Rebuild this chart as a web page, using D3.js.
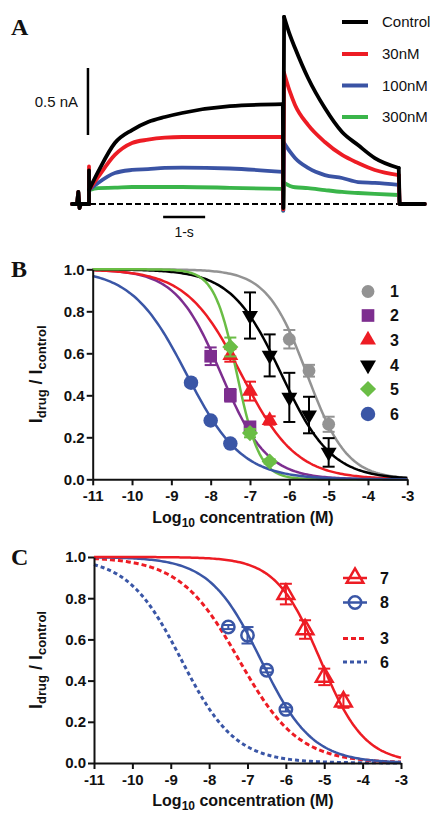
<!DOCTYPE html>
<html><head><meta charset="utf-8">
<script src="https://cdn.jsdelivr.net/npm/d3@7"></script>
<style>
body{margin:0;background:#fff}
svg{display:block}
text{font-family:"Liberation Sans",Arial,Helvetica,sans-serif;fill:#111}
</style>
</head><body>
<svg id="chart" width="437" height="813"></svg>
<script>
// ---------------- Panel A data (time in s, current in nA) ----------------
const traceNames  = ["Control", "30nM", "100nM", "300nM"];
const traceColors = ["#000000", "#ED1C24", "#3A53A4", "#3AB54A"];
const preT = [0, 0.12, 0.15, 0.18, 0.21, 0.405];
const preI = [0, 0, 0.09, -0.03, 0, 0];
const onsetSpike = [0.25, 0.28, 0.2, 0.15];
const actT = [0.405, 0.62, 1.02, 1.43, 1.81, 2.21, 2.62, 3.76, 5.02];
const actControl = [0.104, 0.239, 0.455, 0.552, 0.612, 0.649, 0.679, 0.73, 0.745];
const act30  = [0.104, 0.20, 0.366, 0.455, 0.48, 0.495, 0.50, 0.50, 0.50];
const act100 = [0.104, 0.157, 0.231, 0.254, 0.261, 0.269, 0.272, 0.265, 0.24];
const act300 = [0.104, 0.119, 0.122, 0.127, 0.127, 0.127, 0.127, 0.121, 0.112];
const stepDip = [-0.03, -0.04, -0.05, -0.05];
const tailT = [5.05, 5.19, 5.31, 5.62, 6.02, 6.43, 6.81, 7.21, 7.78];
const tailControl = [1.396, 1.26, 1.164, 0.940, 0.716, 0.537, 0.440, 0.343, 0.269];
const tail30  = [0.978, 0.836, 0.739, 0.590, 0.463, 0.366, 0.306, 0.254, 0.216];
const tail100 = [0.455, 0.39, 0.343, 0.269, 0.216, 0.194, 0.164, 0.157, 0.142];
const tail300 = [0.157, 0.135, 0.125, 0.119, 0.104, 0.090, 0.082, 0.075, 0.067];
const endT = 8.4;
const barCurrent = [0.515, 1.015];   // 0.5 nA scale bar
const barCurrentT = 0.38;
const barTime = [2.17, 3.17];        // 1 s scale bar
const barTimeI = -0.097;

// ---------------- Panel B data ----------------
const seriesB = ["1", "2", "3", "4", "5", "6"];
const colorsB = ["#939393", "#7D2E8F", "#ED1C24", "#000000", "#6ABD45", "#3A56A6"];
const logConcTicks = [-11, -10, -9, -8, -7, -6, -5, -4, -3];
const ratioTicks = [0, 0.2, 0.4, 0.6, 0.8, 1.0];
const b1x = [-6, -5.5, -5],            b1y = [0.667, 0.517, 0.262],          b1e = [0.044, 0.028, 0.036];
const b2x = [-8, -7.5, -7],            b2y = [0.586, 0.40, 0.25],            b2e = [0.042, 0.03, 0.02];
const b3x = [-7.5, -7, -6.5],          b3y = [0.59, 0.42, 0.28],             b3e = [0.03, 0.045, 0.02];
const b4x = [-7, -6.5, -6, -5.5, -5],  b4y = [0.78, 0.59, 0.39, 0.306, 0.128], b4e = [0.11, 0.10, 0.117, 0.087, 0.068];
const b5x = [-7.5, -7, -6.5],          b5y = [0.63, 0.22, 0.085],            b5e = [0.045, 0.02, 0.01];
const b6x = [-8.5, -8, -7.5],          b6y = [0.46, 0.28, 0.17],             b6e = [0.01, 0.01, 0.01];
const logIC50B = [-5.55, -7.73, -7.22, -6.2, -7.33, -8.61];
const hillB    = [0.85, 0.75, 0.62, 0.68, 1.5, 0.62];

// ---------------- Panel C data ----------------
const seriesC = ["7", "8", "3", "6"];
const colorsC = ["#ED1C24", "#3A56A6", "#ED1C24", "#3A56A6"];
const c7x = [-6, -5.5, -5, -4.5], c7y = [0.82, 0.648, 0.418, 0.298], c7e = [0.05, 0.045, 0.04, 0.03];
const c8x = [-7.5, -7, -6.5, -6], c8y = [0.66, 0.62, 0.45, 0.26],     c8e = [0.01, 0.04, 0.01, 0.01];
const logIC50C = [-5.1, -6.65, -7.22, -8.72];
const hillC    = [0.75, 0.65, 0.56, 0.62];

// =====================================================================
const svg = d3.select("#chart");

function panelLetter(txt, x, y) {
  svg.append("text").attr("x", x).attr("y", y).text(txt)
    .style("font-family", '"Liberation Serif","Times New Roman",serif')
    .style("font-weight", "bold").style("font-size", "24px");
}

// ---------------- Panel A ----------------
const xA = d3.scaleLinear().domain([0, endT]).range([72, 72 + endT * 42]);
const yA = d3.scaleLinear().domain([0, 1]).range([204, 70]);
const gA = svg.append("g");
panelLetter("A", 11, 35);

gA.append("line").attr("x1", xA(0)).attr("x2", xA(endT)).attr("y1", yA(0)).attr("y2", yA(0))
  .attr("stroke", "#000").attr("stroke-width", 2).attr("stroke-dasharray", "6,3");

const acts = [actControl, act30, act100, act300];
const tails = [tailControl, tail30, tail100, tail300];
const lin = d3.line().x(d => xA(d[0])).y(d => yA(d[1]));
const smooth = d3.line().x(d => xA(d[0])).y(d => yA(d[1])).curve(d3.curveMonotoneX);

[3, 2, 1, 0].forEach(i => {
  const g = gA.append("g").attr("fill", "none").attr("stroke", traceColors[i])
    .attr("stroke-width", 3.8).attr("stroke-linejoin", "round").attr("stroke-linecap", "round");
  const a = acts[i], tl = tails[i];
  const tStart = actT[0], tStep = actT[actT.length - 1], tEnd = tailT[tailT.length - 1];
  g.append("path").attr("d", lin(preT.map((t, k) => [t, preI[k]])));
  g.append("path").attr("d", lin([[tStart, 0], [tStart, onsetSpike[i]], [tStart, a[0]]]));
  g.append("path").attr("d", smooth(actT.map((t, k) => [t, a[k]])));
  g.append("path").attr("d", lin([[tStep, a[a.length - 1]], [tStep + 0.01, stepDip[i]], [tailT[0], tl[0]]]));
  g.append("path").attr("d", smooth(tailT.map((t, k) => [t, tl[k]])));
  g.append("path").attr("d", lin([[tEnd, tl[tl.length - 1]], [tEnd + 0.02, 0], [endT, 0]]));
});

// scale bars
gA.append("line").attr("x1", xA(barCurrentT)).attr("x2", xA(barCurrentT))
  .attr("y1", yA(barCurrent[0])).attr("y2", yA(barCurrent[1])).attr("stroke", "#000").attr("stroke-width", 2.5);
gA.append("text").attr("x", 78).attr("y", yA((barCurrent[0] + barCurrent[1]) / 2)).attr("dy", "0.35em")
  .attr("text-anchor", "end").style("font-size", "15px").text("0.5 nA");
gA.append("line").attr("x1", xA(barTime[0])).attr("x2", xA(barTime[1]))
  .attr("y1", yA(barTimeI)).attr("y2", yA(barTimeI)).attr("stroke", "#000").attr("stroke-width", 2.5);
gA.append("text").attr("x", (xA(barTime[0]) + xA(barTime[1])) / 2).attr("y", 237)
  .attr("text-anchor", "middle").style("font-size", "14px").text("1-s");

// legend A
const legARows = [22, 54, 85.5, 117];
traceNames.forEach((n, i) => {
  gA.append("line").attr("x1", 342).attr("x2", 368).attr("y1", legARows[i]).attr("y2", legARows[i])
    .attr("stroke", traceColors[i]).attr("stroke-width", 4);
  gA.append("text").attr("x", 382).attr("y", legARows[i]).attr("dy", "0.35em")
    .style("font-size", "15px").text(n);
});

// ---------------- shared axis helper ----------------
function drawAxes(g, x, y, titleY) {
  const ax = g.append("g").attr("transform", `translate(0,${y(0)})`)
    .call(d3.axisBottom(x).tickValues(logConcTicks).tickFormat(d => String(d)).tickSize(6).tickPadding(5).tickSizeOuter(0));
  const ay = g.append("g").attr("transform", `translate(${x(-11)},0)`)
    .call(d3.axisLeft(y).tickValues(ratioTicks).tickFormat(d3.format(".1f")).tickSize(6).tickPadding(2).tickSizeOuter(0));
  [ax, ay].forEach(a => {
    a.select(".domain").attr("stroke", "#111").attr("stroke-width", 2);
    a.selectAll(".tick line").attr("stroke", "#111").attr("stroke-width", 2);
    a.selectAll(".tick text").style("font-family", '"Liberation Sans",Arial,sans-serif')
      .style("font-size", "15px").style("font-weight", "bold").attr("fill", "#111");
  });
  // y title
  const cy = (y(0) + y(1)) / 2;
  const yt = g.append("text").attr("transform", `translate(42,${cy}) rotate(-90)`)
    .attr("text-anchor", "middle").style("font-weight", "bold").style("font-size", "18px");
  yt.append("tspan").text("I");
  yt.append("tspan").attr("baseline-shift", "-28%").style("font-size", "13px").text("drug");
  yt.append("tspan").text(" / I");
  yt.append("tspan").attr("baseline-shift", "-28%").style("font-size", "13px").text("control");
  // x title
  const xt = g.append("text").attr("x", 243).attr("y", titleY).attr("text-anchor", "middle")
    .style("font-weight", "bold").style("font-size", "16px");
  xt.append("tspan").text("Log");
  xt.append("tspan").attr("baseline-shift", "-30%").style("font-size", "12px").text("10");
  xt.append("tspan").text(" concentration (M)");
}

function hillCurve(L, n) {
  const pts = [];
  for (let v = -11; v <= -3.0001; v += 0.05) pts.push([v, 1 / (1 + Math.pow(10, n * (v - L)))]);
  pts.push([-3, 1 / (1 + Math.pow(10, n * (-3 - L)))]);
  return pts;
}

function errorBars(g, x, y, xs, ys, es, color) {
  xs.forEach((v, k) => {
    const cx = x(v), y1 = y(ys[k] - es[k]), y2 = y(ys[k] + es[k]);
    g.append("line").attr("x1", cx).attr("x2", cx).attr("y1", y1).attr("y2", y2).attr("stroke", color).attr("stroke-width", 2);
    [y1, y2].forEach(yy => g.append("line").attr("x1", cx - 6).attr("x2", cx + 6).attr("y1", yy).attr("y2", yy)
      .attr("stroke", color).attr("stroke-width", 2));
  });
}

// ---------------- Panel B ----------------
const xB = d3.scaleLinear().domain([-11, -3]).range([92.7, 407.3]);
const yB = d3.scaleLinear().domain([0, 1]).range([479.3, 269.3]);
const gB = svg.append("g");
panelLetter("B", 11, 277);

const fitLineB = d3.line().x(d => xB(d[0])).y(d => yB(d[1]));
seriesB.forEach((s, i) => {
  gB.append("path").attr("d", fitLineB(hillCurve(logIC50B[i], hillB[i])))
    .attr("fill", "none").attr("stroke", colorsB[i]).attr("stroke-width", 2.5);
});
drawAxes(gB, xB, yB, 523);

const symB = [
  {type: d3.symbolCircle, size: 130, rot: 0},
  {type: d3.symbolSquare, size: 160, rot: 0},
  {type: d3.symbolTriangle, size: 110, rot: 0},
  {type: d3.symbolTriangle, size: 110, rot: 180},
  {type: d3.symbolSquare, size: 130, rot: 45},
  {type: d3.symbolCircle, size: 165, rot: 0}
];
const dataB = [[b1x, b1y, b1e], [b2x, b2y, b2e], [b3x, b3y, b3e], [b4x, b4y, b4e], [b5x, b5y, b5e], [b6x, b6y, b6e]];
dataB.forEach(([xs, ys, es], i) => {
  errorBars(gB, xB, yB, xs, ys, es, colorsB[i]);
  xs.forEach((v, k) => {
    gB.append("path").attr("d", d3.symbol().type(symB[i].type).size(symB[i].size)())
      .attr("transform", `translate(${xB(v)},${yB(ys[k])}) rotate(${symB[i].rot})`)
      .attr("fill", colorsB[i]);
  });
});
// legend B
const legBRows = [291.5, 315.5, 340, 365, 389, 414];
seriesB.forEach((s, i) => {
  gB.append("path").attr("d", d3.symbol().type(symB[i].type).size(symB[i].size)())
    .attr("transform", `translate(368,${legBRows[i]}) rotate(${symB[i].rot})`).attr("fill", colorsB[i]);
  gB.append("text").attr("x", 390).attr("y", legBRows[i]).attr("dy", "0.36em")
    .style("font-weight", "bold").style("font-size", "16px").text(s);
});

// ---------------- Panel C ----------------
const xC = d3.scaleLinear().domain([-11, -3]).range([94, 401]);
const yC = d3.scaleLinear().domain([0, 1]).range([763, 557]);
const gC = svg.append("g");
panelLetter("C", 11, 565);

const fitLineC = d3.line().x(d => xC(d[0])).y(d => yC(d[1]));
const dashC = [null, null, "5,3", "4,3"];
[3, 2, 1, 0].forEach(i => {
  gC.append("path").attr("d", fitLineC(hillCurve(logIC50C[i], hillC[i])))
    .attr("fill", "none").attr("stroke", colorsC[i]).attr("stroke-width", i >= 2 ? 3 : 2.5)
    .attr("stroke-dasharray", dashC[i]);
});
drawAxes(gC, xC, yC, 806);

const symC = [d3.symbol().type(d3.symbolTriangle).size(120)(), d3.symbol().type(d3.symbolCircle).size(120)()];
[[c7x, c7y, c7e], [c8x, c8y, c8e]].forEach(([xs, ys, es], i) => {
  errorBars(gC, xC, yC, xs, ys, es, colorsC[i]);
  xs.forEach((v, k) => {
    gC.append("path").attr("d", symC[i]).attr("transform", `translate(${xC(v)},${yC(ys[k])})`)
      .attr("fill", "none").attr("stroke", colorsC[i]).attr("stroke-width", 2.5);
  });
});
// legend C
const legCRows = [578, 602.5, 638.5, 662];
seriesC.forEach((s, i) => {
  gC.append("line").attr("x1", 343).attr("x2", 367).attr("y1", legCRows[i]).attr("y2", legCRows[i])
    .attr("stroke", colorsC[i]).attr("stroke-width", i >= 2 ? 3 : 2.5).attr("stroke-dasharray", dashC[i]);
  if (i < 2) gC.append("path").attr("d", symC[i]).attr("transform", `translate(355,${legCRows[i]})`)
    .attr("fill", "none").attr("stroke", colorsC[i]).attr("stroke-width", 2.5);
  gC.append("text").attr("x", 380).attr("y", legCRows[i]).attr("dy", "0.36em")
    .style("font-weight", "bold").style("font-size", "16px").text(s);
});
</script>
</body></html>
